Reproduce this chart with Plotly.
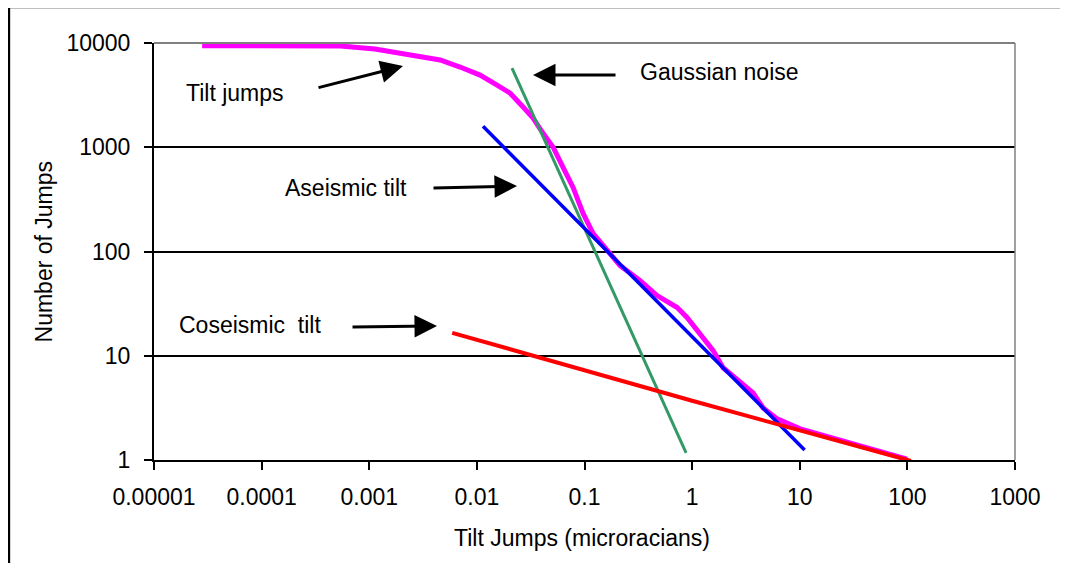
import plotly.graph_objects as go

# values (log-log)
tilt_x = [2.8e-5, 5.4e-4, 0.00113, 0.00193, 0.00455, 0.00698, 0.0107, 0.0154, 0.0204, 0.0269,
          0.0333, 0.0412, 0.0511, 0.0632, 0.0783, 0.097, 0.120, 0.214, 0.329, 0.473,
          0.726, 0.90, 1.19, 1.57, 1.94, 2.62, 3.69, 4.57, 6.17, 10.1,
          20.4, 36.4, 99.5]
tilt_y = [9400, 9360, 8760, 8020, 6870, 5880, 4920, 3940, 3300, 2430,
          1900, 1360, 1000, 642, 412, 232, 149, 73.3, 52.6, 37.8,
          29.0, 23.2, 16.3, 11.2, 7.67, 6.01, 4.41, 3.16, 2.48, 1.99,
          1.63, 1.38, 1.02]

gauss_x = [0.0212, 0.137, 0.879]
gauss_y = [5750, 82, 1.17]

aseismic_x = [0.0114, 0.12, 1.0, 11.1]
aseismic_y = [1590, 138, 15.2, 1.25]

coseismic_x = [0.0059, 1.0, 108]
coseismic_y = [16.6, 3.7, 0.98]

x_ticks = [1e-5, 1e-4, 1e-3, 1e-2, 0.1, 1, 10, 100, 1000]
x_labels = ["0.00001", "0.0001", "0.001", "0.01", "0.1", "1", "10", "100", "1000"]
y_ticks = [1, 10, 100, 1000, 10000]
y_labels = ["1", "10", "100", "1000", "10000"]

FONT = "Arial, 'Liberation Sans', sans-serif"

fig = go.Figure()

fig.add_trace(go.Scatter(x=tilt_x, y=tilt_y, mode="lines",
                         line=dict(color="#FF00FF", width=5), name="Tilt jumps"))
fig.add_trace(go.Scatter(x=gauss_x, y=gauss_y, mode="lines",
                         line=dict(color="#339966", width=3), name="Gaussian noise"))
fig.add_trace(go.Scatter(x=aseismic_x, y=aseismic_y, mode="lines",
                         line=dict(color="#0000FF", width=3.5), name="Aseismic tilt"))
fig.add_trace(go.Scatter(x=coseismic_x, y=coseismic_y, mode="lines",
                         line=dict(color="#FF0000", width=4), name="Coseismic tilt"))

# text labels and arrows (paper coordinates)
labels = [
    ("Tilt jumps", 0.094, 0.880),
    ("Aseismic tilt", 0.223, 0.652),
    ("Gaussian noise", 0.657, 0.930),
    ("Coseismic\u00a0 tilt", 0.1115, 0.3237),
]
for txt, lx, ly in labels:
    fig.add_annotation(x=lx, y=ly, xref="paper", yref="paper", text=txt,
                       showarrow=False, xanchor="center", yanchor="middle",
                       font=dict(family=FONT, size=23, color="black"))

arrows = [
    (0.2892, 0.9448, -86, 22),
    (0.4216, 0.6571, -85, 2),
    (0.4402, 0.9233, 84, 0),
    (0.3287, 0.3213, -86, 1),
]
for hx, hy, dx, dy in arrows:
    fig.add_annotation(x=hx, y=hy, xref="paper", yref="paper", text="",
                       showarrow=True, ax=dx, ay=dy, arrowhead=2, arrowsize=1.5,
                       arrowwidth=3, arrowcolor="black")

# axis titles
fig.add_annotation(x=-0.1278, y=0.5, xref="paper", yref="paper", text="Number of Jumps",
                   textangle=-90, showarrow=False, xanchor="center", yanchor="middle",
                   font=dict(family=FONT, size=23, color="black"))
fig.add_annotation(x=0.497, y=-0.187, xref="paper", yref="paper",
                   text="Tilt Jumps (microracians)", showarrow=False,
                   xanchor="center", yanchor="middle",
                   font=dict(family=FONT, size=23, color="black"))

# plot-area border: grey top and right
fig.add_shape(type="line", xref="paper", yref="paper", x0=0, x1=1, y0=1, y1=1,
              line=dict(color="#808080", width=2), layer="above")
fig.add_shape(type="line", xref="paper", yref="paper", x0=1, x1=1, y0=0, y1=1,
              line=dict(color="#808080", width=1.5), layer="above")
# outer chart frame (left and top edges)
fig.add_shape(type="line", xref="paper", yref="paper", x0=-0.1685, x1=-0.1685,
              y0=-0.26, y1=1.0863, line=dict(color="black", width=2.5))
fig.add_shape(type="line", xref="paper", yref="paper", x0=-0.1685, x1=1.0523,
              y0=1.0863, y1=1.0863, line=dict(color="black", width=2.5))

# page body adds an 8px margin, so the figure is drawn smaller and offset
fig.update_layout(
    width=1052, height=555,
    margin=dict(l=146, r=45, t=35, b=103),
    paper_bgcolor="white", plot_bgcolor="white",
    showlegend=False,
    font=dict(family=FONT, size=23, color="black"),
    xaxis=dict(type="log", range=[-5, 3], tickmode="array",
               tickvals=x_ticks, ticktext=x_labels,
               ticks="outside", ticklen=8, tickwidth=2, tickcolor="black",
               showline=True, linecolor="black", linewidth=2,
               showgrid=False, zeroline=False, ticklabelstandoff=7),
    yaxis=dict(type="log", range=[0, 4], tickmode="array",
               tickvals=y_ticks, ticktext=y_labels,
               ticks="outside", ticklen=8, tickwidth=2, tickcolor="black",
               showline=True, linecolor="black", linewidth=2,
               showgrid=True, gridcolor="black", gridwidth=2,
               zeroline=False, ticklabelstandoff=9),
)

fig.write_html("out.html")
